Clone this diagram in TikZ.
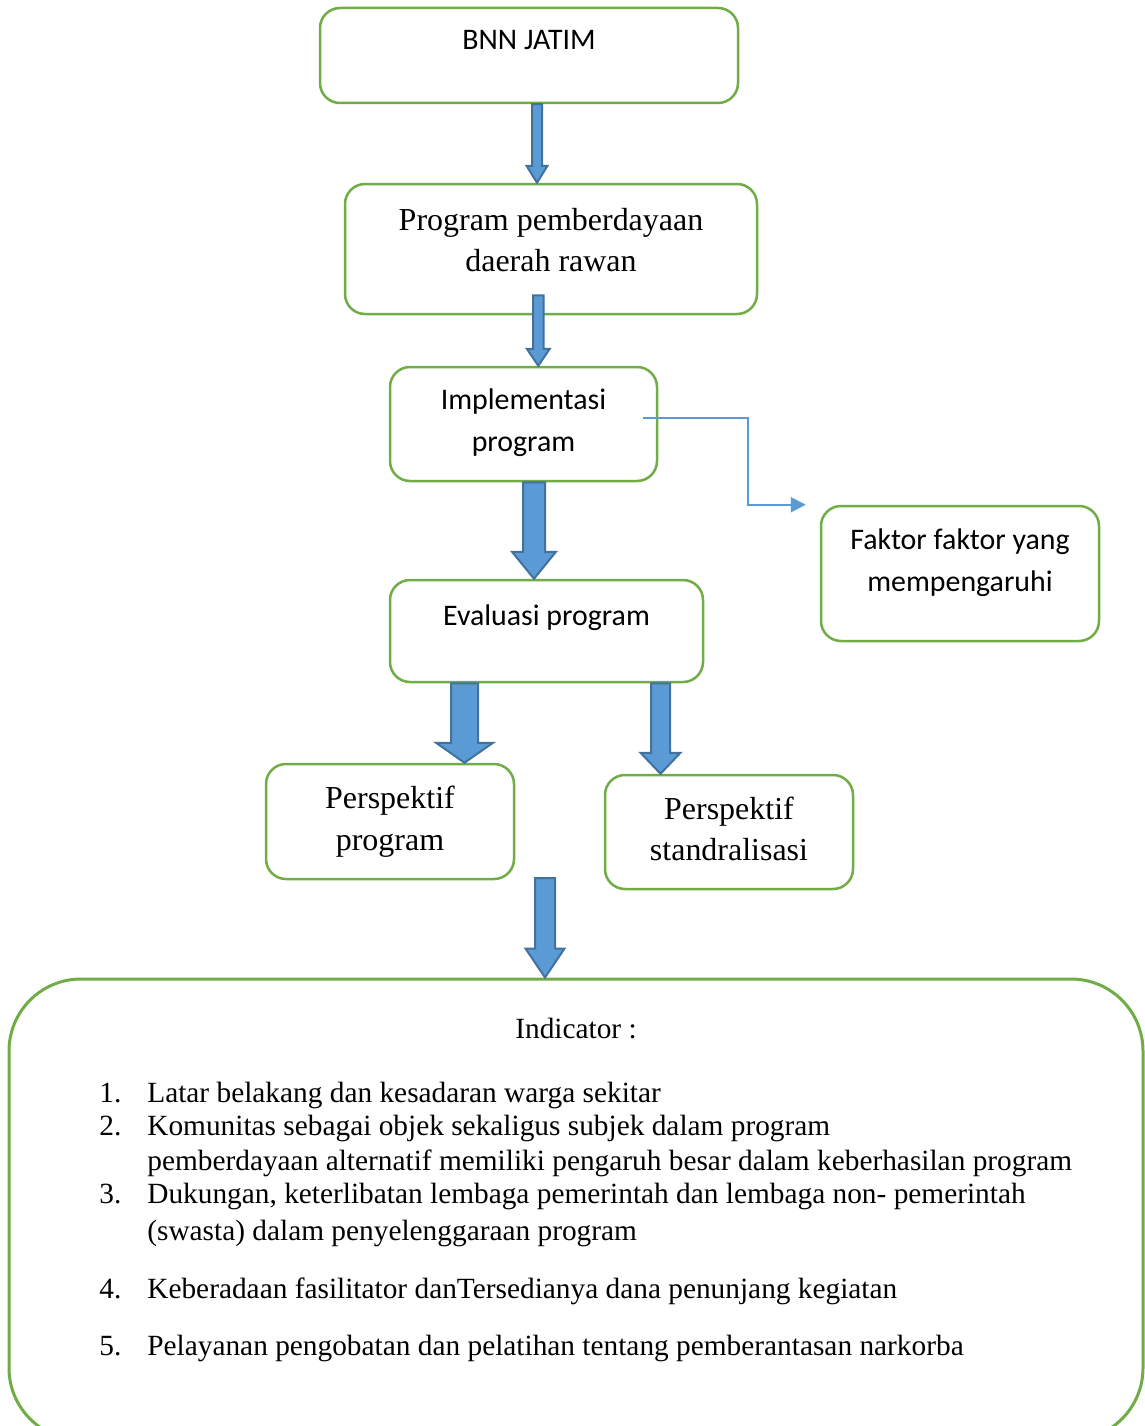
\documentclass[tikz,border=0pt]{standalone}
\usepackage{fontspec}
\setmainfont{Liberation Serif}
\newfontfamily\calibri{Carlito}
\usetikzlibrary{arrows.meta,calc}
\newlength\pxl \setlength\pxl{0.02cm}
\definecolor{boxgreen}{HTML}{70AD47}
\definecolor{arrowfill}{HTML}{5B9BD5}
\definecolor{arrowedge}{HTML}{41719C}
\tikzset{
box/.style={draw=boxgreen, line width=2.5\pxl, rounded corners=20\pxl, fill=white,
  inner xsep=0pt, inner ysep=0pt, align=center},
sanstext/.style={font=\calibri\fontsize{17}{24}\selectfont},
seriftext/.style={font=\fontsize{18.2}{23.7}\selectfont},
item/.style={font=\fontsize{16.7}{19}\selectfont, inner sep=0pt},
blockarrow/.style={fill=arrowfill, draw=arrowedge, line width=2\pxl, line join=miter},
link/.style={draw=arrowfill, line width=2\pxl, -{Triangle[length=8.5pt,width=8.5pt]}}
}
% from, to, shaft half width, head half width, head length (px)
\newcommand\blkarrow[5]{%
\draw[blockarrow] let \p1=#1, \p2=#2 in
(\x1-#3*\pxl,\y1) -- (\x1-#3*\pxl,\y2+#5*\pxl) -- (\x1-#4*\pxl,\y2+#5*\pxl) -- (\x1,\y2)
-- (\x1+#4*\pxl,\y2+#5*\pxl) -- (\x1+#3*\pxl,\y2+#5*\pxl) -- (\x1+#3*\pxl,\y1) -- cycle;}

\begin{document}
\begin{tikzpicture}[x=0.02cm,y=-0.02cm]
\useasboundingbox (0,0) rectangle (1144,1426);

\node[box, sanstext, minimum width=418\pxl, text height=42\pxl, text depth=53\pxl]
  (bnn) at (529,55.5) {BNN JATIM};
\node[box, seriftext, minimum width=412\pxl, text height=87.7\pxl, text depth=42.3\pxl]
  (prog) at (551,249) {Program pemberdayaan\\daerah rawan};
\node[box, sanstext, minimum width=267\pxl, text height=84.7\pxl, text depth=29.3\pxl]
  (impl) at (523.5,424) {Implementasi\\program};
\node[box, sanstext, minimum width=313\pxl, text height=45\pxl, text depth=57\pxl]
  (eval) at (546.5,631) {Evaluasi program};
\node[box, sanstext, minimum width=278\pxl, text height=85.7\pxl, text depth=49.3\pxl]
  (fakt) at (960,573.5) {Faktor faktor yang\\mempengaruhi};
\node[box, seriftext, minimum width=248\pxl, text height=86\pxl, text depth=29\pxl]
  (pprog) at (390,821.5) {Perspektif\\program};
\node[box, seriftext, minimum width=248\pxl, text height=85.7\pxl, text depth=28.3\pxl]
  (pstd) at (729,832) {Perspektif\\standralisasi};
\node[box, line width=3\pxl, rounded corners=72\pxl, minimum width=1134\pxl, minimum height=461\pxl]
  (ind) at (576,1209.5) {};

% block arrows
\coordinate (gap) at (545,878);
\blkarrow{(537,0 |- bnn.south)}{(537,0 |- prog.north)}{5}{10.5}{17}
\blkarrow{($(538.3,0 |- prog.south)+(0,-20)$)}{(538.3,0 |- impl.north)}{5.25}{11.5}{17}
\blkarrow{(534,0 |- impl.south)}{(534,0 |- eval.north)}{11}{22}{27}
\blkarrow{(464.5,0 |- eval.south)}{(464.5,0 |- pprog.north)}{13.5}{28.5}{20}
\blkarrow{(660.5,0 |- eval.south)}{(660.5,0 |- pstd.north)}{9.5}{20}{21}
\blkarrow{(gap)}{(545,0 |- ind.north)}{10}{19.5}{29}

\coordinate (linkstart) at ($(impl.east)+(-15,-6)$);
\coordinate (linkend) at ($(fakt.north west)+(-14,0)$);
\draw[link] (linkstart) -- ++(105,0) |- (linkend);

% indicator list
\node[item, anchor=base] (indhead) at (576,1038) {Indicator :};
\node[item, anchor=base west] (n1) at (99,1102) {1.};
\node[item, anchor=base west] (t1) at (147,1102) {Latar belakang dan kesadaran warga sekitar};
\node[item, anchor=base west] (n2) at (99,1135) {2.};
\node[item, anchor=base west] (t2) at (147,1135) {Komunitas sebagai objek sekaligus subjek dalam program};
\node[item, anchor=base west] (t2b) at (147,1170) {pemberdayaan alternatif memiliki pengaruh besar dalam keberhasilan program};
\node[item, anchor=base west] (n3) at (99,1203) {3.};
\node[item, anchor=base west] (t3) at (147,1203) {Dukungan, keterlibatan lembaga pemerintah dan lembaga non- pemerintah};
\node[item, anchor=base west] (t3b) at (147,1240) {(swasta) dalam penyelenggaraan program};
\node[item, anchor=base west] (n4) at (99,1298) {4.};
\node[item, anchor=base west] (t4) at (147,1298) {Keberadaan fasilitator danTersedianya dana penunjang kegiatan};
\node[item, anchor=base west] (n5) at (99,1355) {5.};
\node[item, anchor=base west] (t5) at (147,1355) {Pelayanan pengobatan dan pelatihan tentang pemberantasan narkorba};
\end{tikzpicture}
\end{document}
